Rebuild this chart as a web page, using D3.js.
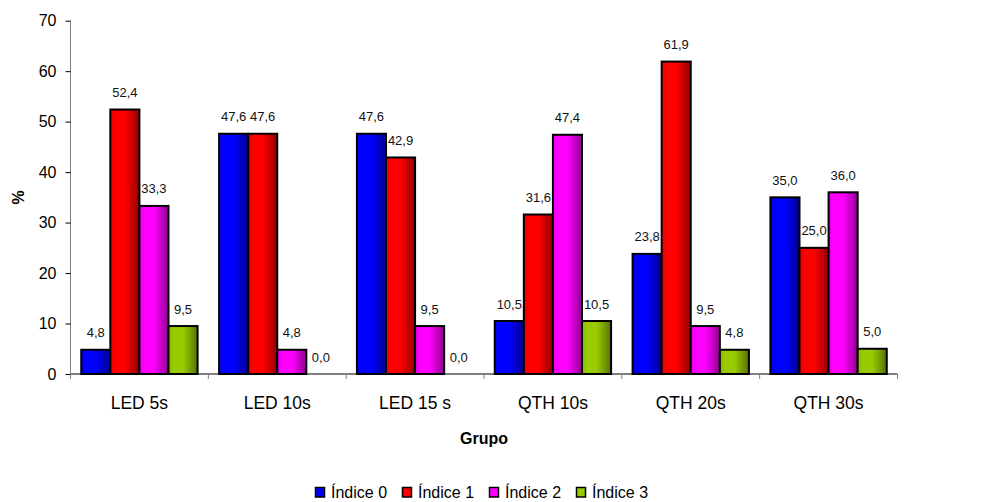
<!DOCTYPE html>
<html>
<head>
<meta charset="utf-8">
<script src="https://cdn.jsdelivr.net/npm/d3@7"></script>
<style>
  html, body { margin: 0; padding: 0; background: #fff; overflow: hidden; }
  svg { display: block; font-family: "Liberation Sans", Arial, sans-serif; }
</style>
</head>
<body>
<svg id="chart" width="989" height="502"></svg>
<script>
// Categories (x groups) and series
const groups = ["LED 5s", "LED 10s", "LED 15 s", "QTH 10s", "QTH 20s", "QTH 30s"];
const seriesNames = ["Índice 0", "Índice 1", "Índice 2", "Índice 3"];

// Percent values per series, one per group
const indice0 = [4.8, 47.6, 47.6, 10.5, 23.8, 35.0];
const indice1 = [52.4, 47.6, 42.9, 31.6, 61.9, 25.0];
const indice2 = [33.3, 4.8, 9.5, 47.4, 9.5, 36.0];
const indice3 = [9.5, 0.0, 0.0, 10.5, 4.8, 5.0];

const yTicks = [0, 10, 20, 30, 40, 50, 60, 70];
const seriesColors = ["#0000ff", "#ff0000", "#ff00ff", "#99cc00"];

const seriesValues = [indice0, indice1, indice2, indice3];

const svg = d3.select("#chart");

// Plot frame
const plotLeft = 70.5, plotRight = 897.5, plotTop = 20.7, plotBottom = 374;

const x = d3.scaleBand().domain(groups).range([plotLeft, plotRight]).paddingInner(0).paddingOuter(0);
const gw = x.bandwidth();
const padIn = gw * 0.078;
const xs = d3.scaleBand().domain(seriesNames).range([padIn, gw - padIn]).paddingInner(0);
const y = d3.scaleLinear().domain([0, 70]).range([plotBottom, plotTop]);

// Shaded fills: bright on the left, darkening towards the right edge
const defs = svg.append("defs");
seriesColors.forEach((c, i) => {
  const g = defs.append("linearGradient")
    .attr("id", "grad" + i)
    .attr("x1", "0").attr("x2", "1").attr("y1", "0").attr("y2", "0");
  const base = d3.rgb(c);
  g.append("stop").attr("offset", "0%").attr("stop-color", base.darker(0.25));
  g.append("stop").attr("offset", "20%").attr("stop-color", base);
  g.append("stop").attr("offset", "50%").attr("stop-color", base);
  g.append("stop").attr("offset", "100%").attr("stop-color", base.darker(1.6));
});

// Y axis
const yAxis = d3.axisLeft(y).tickValues(yTicks).tickSize(5).tickPadding(9).tickFormat(d3.format("d"));
const gy = svg.append("g").attr("transform", `translate(${plotLeft},0)`).call(yAxis);
gy.select(".domain").attr("stroke", "#808080").attr("d", `M0,${plotTop}V${plotBottom}`);
gy.selectAll(".tick line").attr("stroke", "#000");
gy.selectAll(".tick text").attr("font-size", 16).attr("fill", "#000")
  .attr("font-family", "Liberation Sans, Arial, sans-serif");

// Bars
const data = [];
groups.forEach((gname, gi) => {
  seriesNames.forEach((s, si) => {
    data.push({ group: gname, series: s, si, value: seriesValues[si][gi] });
  });
});

const bars = svg.append("g");
bars.selectAll("rect").data(data).join("rect")
  .attr("x", d => x(d.group) + xs(d.series))
  .attr("y", d => y(d.value))
  .attr("width", xs.bandwidth())
  .attr("height", d => y(0) - y(d.value))
  .attr("fill", d => `url(#grad${d.si})`)
  .attr("stroke", "#000")
  .attr("stroke-width", 2);

// X axis line with group separators
const gx = svg.append("g");
gx.append("line").attr("x1", plotLeft).attr("x2", plotRight).attr("y1", plotBottom).attr("y2", plotBottom)
  .attr("stroke", "#000").attr("stroke-width", 1);
const bounds = groups.map(g => x(g)).concat([plotRight]);
gx.selectAll(".sep").data(bounds).join("line")
  .attr("class", "sep")
  .attr("x1", d => d).attr("x2", d => d)
  .attr("y1", plotBottom).attr("y2", plotBottom + 5)
  .attr("stroke", "#808080");
gx.selectAll(".cat").data(groups).join("text")
  .attr("class", "cat")
  .attr("x", d => x(d) + gw / 2)
  .attr("y", 409)
  .attr("text-anchor", "middle")
  .attr("font-size", 17.5)
  .text(d => d);

// Value labels
const fmt = v => d3.format(".1f")(v).replace(".", ",");
svg.append("g").selectAll("text").data(data).join("text")
  .attr("x", d => x(d.group) + xs(d.series) + xs.bandwidth() / 2)
  .attr("y", d => y(d.value) - 12.5)
  .attr("text-anchor", "middle")
  .attr("font-size", 13)
  .attr("fill", "#111")
  .text(d => fmt(d.value));

// Axis titles
svg.append("text")
  .attr("x", (plotLeft + plotRight) / 2).attr("y", 444)
  .attr("text-anchor", "middle").attr("font-size", 16).attr("font-weight", "bold")
  .text("Grupo");
svg.append("text")
  .attr("transform", `translate(24,${(plotTop + plotBottom) / 2}) rotate(-90)`)
  .attr("text-anchor", "middle").attr("font-size", 16).attr("font-weight", "bold")
  .text("%");

// Legend
const legend = svg.append("g").attr("transform", "translate(315,487)");
const items = legend.selectAll("g").data(seriesNames).join("g")
  .attr("transform", (d, i) => `translate(${i * 87},0)`);
items.append("rect")
  .attr("x", 0.5).attr("y", 0.5).attr("width", 9).attr("height", 9.5)
  .attr("fill", (d, i) => seriesColors[i]).attr("stroke", "#000").attr("stroke-width", 1.5);
items.append("text")
  .attr("x", 16).attr("y", 10.5)
  .attr("font-size", 16)
  .text(d => d);
</script>
</body>
</html>
